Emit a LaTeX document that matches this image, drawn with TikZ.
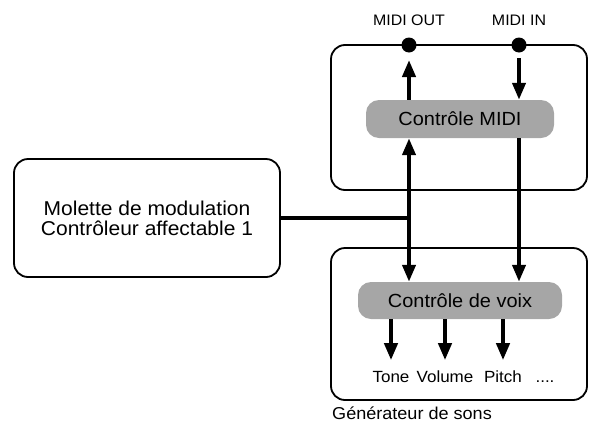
\documentclass[tikz,border=0pt]{standalone}
\usepackage{fontspec}
\setmainfont{Liberation Sans}[FakeStretch=1.05]
\usetikzlibrary{arrows.meta}

\begin{document}
\begin{tikzpicture}[x=1pt,y=-1pt,>={Triangle[length=17pt,width=13pt]},
  frame/.style={draw,line width=1.8pt,rounded corners=14pt,inner sep=0pt},
  ctrl/.style={fill=black!35,rounded corners=13pt,inner sep=0pt,font=\fontsize{19}{20}\selectfont},
  dot/.style={circle,fill,inner sep=0pt,minimum size=15pt},
  lbl/.style={inner sep=0pt,font=\fontsize{15.2}{17}\selectfont},
  link/.style={line width=4pt}]
  \useasboundingbox (0,0) rectangle (589,426);
  % boxes
  \node[frame,minimum width=256pt,minimum height=145pt] (midibox) at (459,117.5) {};
  \node[frame,minimum width=256pt,minimum height=152pt] (gen) at (459,324) {};
  \node[frame,minimum width=266pt,minimum height=118pt,align=center,
    font=\fontsize{20}{20}\selectfont] (mod) at (147,218) {Molette de modulation\\Contrôleur affectable 1};
  \node[ctrl,minimum width=188pt,minimum height=38pt] (ctlmidi) at (460,119) {Contrôle MIDI};
  \node[ctrl,minimum width=204pt,minimum height=37pt] (ctlvoix) at (460,300.5) {Contrôle de voix};
  % MIDI ports
  \node[dot] (out) at (409,45) {};
  \node[dot] (in) at (519,45) {};
  \node[lbl] (outlbl) at (409,20) {MIDI OUT};
  \node[lbl] (inlbl) at (519,20) {MIDI IN};
  \draw[link,->,shorten >=15pt] (ctlmidi.north -| out) -- (out.center);
  \draw[link,->,shorten <=13pt] (in.center) -- (ctlmidi.north -| in);
  \draw[link,<->] (ctlmidi.south -| out) -- (ctlvoix.north -| out);
  \draw[link,->] (ctlmidi.south -| in) -- (ctlvoix.north -| in);
  \coordinate (j) at (mod.east -| out);
  \draw[link] (mod.east) -- (j);
  % parameters
  \foreach \x/\n/\t in {391/tone/Tone,445/vol/Volume,503/pitch/Pitch} {
    \node[lbl,anchor=base,font=\fontsize{16.2}{18}\selectfont] (\n) at (\x,382) {\t};
    \draw[link,->] (ctlvoix.south -| \n) -- ++(0,41);
  }
  \node[lbl,anchor=base,font=\fontsize{16.2}{18}\selectfont] (more) at (545,382) {....};
  \node[lbl,anchor=base west,font=\fontsize{17.2}{19}\selectfont] (genlbl) at (332,419) {Générateur de sons};
\end{tikzpicture}
\end{document}
